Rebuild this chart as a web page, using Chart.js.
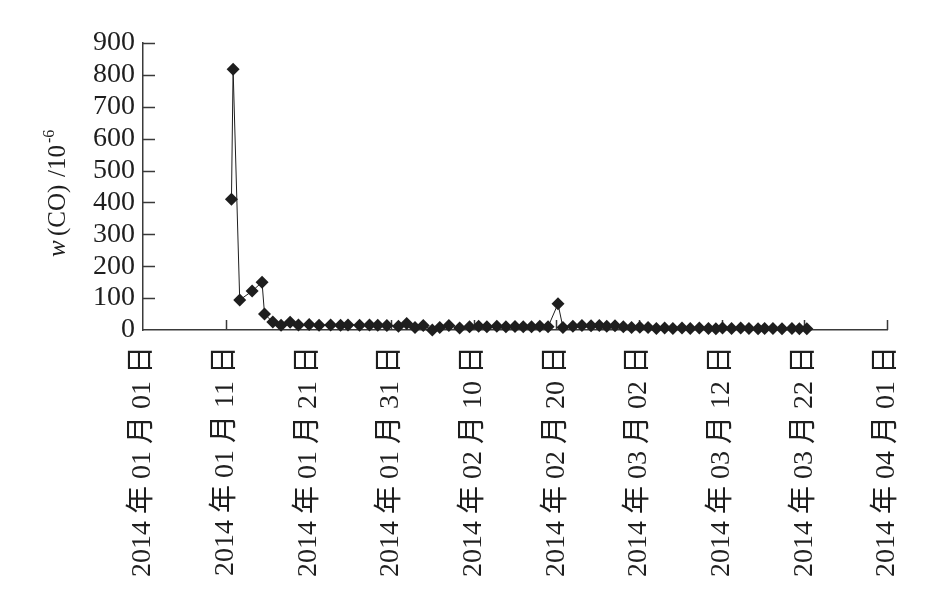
<!DOCTYPE html>
<html>
<head>
<meta charset="utf-8">
<script src="https://cdn.jsdelivr.net/npm/chart.js@4.4.0/dist/chart.umd.min.js"></script>
<style>
  html, body { margin: 0; padding: 0; background: #fff; }
</style>
</head>
<body>
<canvas id="coChart" width="930" height="613"></canvas>
<script>
(function(){
  'use strict';

  // sampling time, in days after 2014-01-01
  var sampleDays = [10.7, 10.9, 11.7, 13.2, 14.4, 14.7, 15.7, 16.7, 17.8, 18.8,
    20.1, 21.3, 22.7, 23.9, 24.8, 26.2, 27.4, 28.4, 29.5, 30.9,
    31.9, 32.9, 33.9, 35.0, 35.9, 37.0, 38.3, 39.5, 40.6, 41.6,
    42.8, 43.9, 45.0, 46.0, 47.0, 48.0, 49.0, 50.2, 50.8, 52.0,
    53.1, 54.2, 55.2, 56.1, 57.1, 58.1, 59.1, 60.1, 61.1, 62.1,
    63.1, 64.1, 65.2, 66.2, 67.3, 68.4, 69.3, 70.1, 71.2, 72.3,
    73.3, 74.4, 75.2, 76.2, 77.3, 78.5, 79.4, 80.3];

  // w(CO) / 10^-6
  var coValues = [410, 818, 94, 122, 150, 50, 25, 15, 24, 16,
    17, 15, 16, 15, 16, 15, 16, 15, 14, 12,
    20, 8, 14, 0, 8, 14, 6, 10, 12, 10,
    12, 10, 11, 10, 10, 12, 10, 82, 8, 12,
    14, 13, 14, 12, 13, 10, 8, 9, 8, 5,
    6, 5, 6, 5, 6, 5, 4, 6, 5, 6,
    5, 4, 5, 5, 4, 5, 4, 4];

  var xTickLabels = ['2014 年 01 月 01 日', '2014 年 01 月 11 日', '2014 年 01 月 21 日',
    '2014 年 01 月 31 日', '2014 年 02 月 10 日', '2014 年 02 月 20 日',
    '2014 年 03 月 02 日', '2014 年 03 月 12 日', '2014 年 03 月 22 日',
    '2014 年 04 月 01 日'];

  var serif = "'Liberation Serif', 'Noto Sans CJK SC', serif";
  var ink = '#1e1e1e';
  var axisColor = '#3a3a3a';

  var points = sampleDays.map(function(d, i){ return { x: d, y: coValues[i] }; });

  // short inward tick marks on both axes
  var innerTicks = {
    id: 'innerTicks',
    beforeDatasetsDraw: function(chart){
      var ctx = chart.ctx;
      var xs = chart.scales.x, ys = chart.scales.y;
      var area = chart.chartArea;
      ctx.save();
      ctx.strokeStyle = axisColor;
      ctx.lineWidth = 1.5;
      ctx.beginPath();
      ys.ticks.forEach(function(t){
        if (t.value === 0) return;
        var py = Math.round(ys.getPixelForValue(t.value)) + 0.5;
        ctx.moveTo(area.left, py);
        ctx.lineTo(area.left + 12, py);
      });
      xs.ticks.forEach(function(t){
        if (t.value === 0) return;
        var px = Math.round(xs.getPixelForValue(t.value)) + 0.5;
        ctx.moveTo(px, area.bottom);
        ctx.lineTo(px, area.bottom - 10);
      });
      ctx.stroke();
      ctx.restore();
    }
  };

  // y axis title: italic w, (CO) /10 and superscript -6
  var yTitle = {
    id: 'yTitle',
    afterDraw: function(chart){
      var ctx = chart.ctx;
      ctx.save();
      ctx.translate(65, 257);
      ctx.rotate(-Math.PI / 2);
      ctx.fillStyle = ink;
      ctx.textBaseline = 'alphabetic';
      ctx.textAlign = 'left';
      ctx.font = 'italic 25px ' + serif;
      ctx.fillText('w', 0, 0);
      ctx.font = '25px ' + serif;
      ctx.fillText('(CO)', 21, 0);
      ctx.fillText('/10', 80, 0);
      ctx.font = '16px ' + serif;
      ctx.fillText('-6', 114, -11);
      ctx.restore();
    }
  };

  new Chart(document.getElementById('coChart'), {
    type: 'line',
    data: {
      datasets: [{
        label: 'w(CO)',
        data: points,
        borderColor: ink,
        borderWidth: 1,
        backgroundColor: ink,
        pointStyle: 'rectRot',
        pointRadius: 6.5,
        pointBorderWidth: 0,
        pointBackgroundColor: ink,
        tension: 0,
        clip: false
      }]
    },
    options: {
      responsive: false,
      animation: false,
      events: [],
      layout: { padding: { top: 43, right: 43, left: 0, bottom: 0 } },
      plugins: { legend: { display: false }, tooltip: { enabled: false } },
      scales: {
        x: {
          type: 'linear',
          min: 0,
          max: 90,
          afterFit: function(s){
            s.height = 283;
            s.paddingLeft = 0;
            s.paddingRight = 0;
          },
          grid: { display: false, drawTicks: false },
          border: { display: true, color: axisColor, width: 1.5 },
          ticks: {
            stepSize: 10,
            autoSkip: false,
            minRotation: 90,
            maxRotation: 90,
            padding: 16,
            color: ink,
            font: { family: serif, size: 28 },
            callback: function(v, i){ return xTickLabels[i]; }
          }
        },
        y: {
          min: 0,
          max: 900,
          afterFit: function(s){ s.width = 143; },
          grid: { display: false, drawTicks: false },
          border: { display: true, color: axisColor, width: 1.5 },
          ticks: {
            stepSize: 100,
            autoSkip: false,
            padding: 8,
            color: ink,
            font: { family: serif, size: 28 }
          }
        }
      }
    },
    plugins: [innerTicks, yTitle]
  });
})();
</script>
</body>
</html>
